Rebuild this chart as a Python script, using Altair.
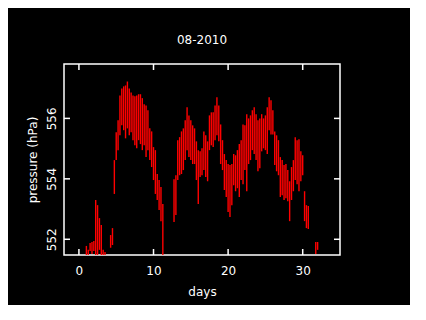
import altair as alt
import pandas as pd

# Time (days of August 2010) and the pressure spread observed around each time
days = [1.0, 1.25, 1.5, 1.75, 2.0, 2.25, 2.5, 2.75, 3.0, 3.25, 3.5,
        4.25, 4.5, 4.75, 5.0, 5.25, 5.5, 5.75, 6.0, 6.25, 6.5, 6.75,
        7.0, 7.25, 7.5, 7.75, 8.0, 8.25, 8.5, 8.75, 9.0, 9.25, 9.5, 9.75,
        10.0, 10.25, 10.5, 10.75, 11.0, 11.25,
        12.75, 13.0, 13.25, 13.5, 13.75, 14.0, 14.25, 14.5, 14.75,
        15.0, 15.25, 15.5, 15.75, 16.0, 16.25, 16.5, 16.75, 17.0, 17.25,
        17.5, 17.75, 18.0, 18.25, 18.5, 18.75, 19.0, 19.25, 19.5, 19.75,
        20.0, 20.25, 20.5, 20.75, 21.0, 21.25, 21.5, 21.75, 22.0, 22.25,
        22.5, 22.75, 23.0, 23.25, 23.5, 23.75, 24.0, 24.25, 24.5, 24.75,
        25.0, 25.25, 25.5, 25.75, 26.0, 26.25, 26.5, 26.75, 27.0, 27.25,
        27.5, 27.75, 28.0, 28.25, 28.5, 28.75, 29.0, 29.25, 29.5, 29.75,
        30.0, 30.25, 30.5, 30.75, 31.75, 32.0]

p_high = [551.78, 551.65, 551.88, 551.91, 551.94, 553.30, 553.13, 552.70, 552.47, 551.65, 551.58,
          552.14, 552.37, 554.62, 555.54, 555.94, 556.76, 556.99, 557.06, 557.09, 557.22, 556.99,
          556.86, 556.76, 556.73, 556.76, 556.80, 556.80, 556.67, 556.47, 556.43, 556.27, 555.67, 555.57,
          555.05, 554.95, 554.16, 553.96, 553.73, 553.17,
          553.99, 554.12, 555.28, 555.38, 555.57, 555.67, 555.94, 556.37, 556.10,
          555.94, 555.77, 555.67, 555.24, 554.95, 554.91, 555.01, 555.57, 555.44, 555.24,
          556.10, 556.20, 556.20, 556.43, 556.70, 556.43, 555.80, 555.28, 554.82, 554.62,
          554.49, 554.46, 554.49, 554.82, 554.78, 554.95, 555.15, 555.28, 555.80, 555.77,
          556.14, 556.00, 556.10, 556.27, 556.37, 556.14, 555.94, 556.00, 556.14, 556.00,
          556.10, 556.37, 556.70, 556.60, 556.27, 555.57, 555.44, 555.28, 554.72, 554.62,
          554.46, 554.49, 554.29, 553.92, 554.39, 554.62, 555.38, 555.28, 555.31, 554.91,
          554.78, 553.59, 553.13, 553.10, 551.91, 551.91]

p_low = [551.48, 551.48, 551.61, 551.51, 551.61, 551.48, 551.48, 551.65, 551.48, 551.45, 551.45,
         551.72, 551.81, 553.50, 554.62, 554.95, 555.44, 555.77, 555.61, 555.34, 555.67, 555.44,
         555.54, 555.28, 555.11, 555.01, 555.28, 555.15, 554.95, 555.11, 554.72, 554.95, 554.62, 554.39,
         553.96, 553.50, 553.30, 552.97, 552.60, 551.48,
         552.57, 552.80, 553.96, 554.12, 554.16, 554.29, 554.62, 554.95, 554.72,
         554.62, 554.49, 554.49, 553.96, 553.17, 554.06, 554.12, 554.29, 554.06, 553.92,
         554.95, 555.11, 555.05, 555.28, 555.44, 555.24, 554.49, 554.29, 553.63, 553.40,
         552.90, 552.74, 553.13, 553.79, 553.59, 553.69, 553.40, 553.96, 553.82, 554.29,
         553.59, 554.49, 554.62, 554.95, 554.82, 554.62, 554.25, 554.35, 554.91, 555.01,
         554.95, 554.82, 555.61, 555.47, 555.47, 554.46, 554.25, 554.12, 553.40, 553.46,
         553.30, 553.36, 553.26, 552.60, 553.30, 553.59, 553.96, 553.82, 553.59, 553.92,
         554.12, 552.60, 552.37, 552.34, 551.51, 551.65]

x_ticks = [0, 10, 20, 30]
y_ticks = [552, 554, 556]

W, H = 276, 191
FONT = "DejaVu Sans"

df = pd.DataFrame({"day": days, "lo": p_low, "hi": p_high})
xt = pd.DataFrame({"t": x_ticks})
yt = pd.DataFrame({"t": y_ticks})

xscale = alt.Scale(domain=[-2, 35], nice=False, zero=False)
yscale = alt.Scale(domain=[551.48, 557.8], nice=False, zero=False)

data_layer = alt.Chart(df).mark_rule(color="#ff0000", strokeWidth=1.4, clip=True).encode(
    x=alt.X("day:Q", scale=xscale,
            axis=alt.Axis(values=x_ticks, title="days", ticks=False, domain=False, grid=False,
                          labelColor="white", titleColor="white", labelFont=FONT, titleFont=FONT,
                          labelFontSize=12, titleFontSize=12, titleFontWeight="normal",
                          labelPadding=10, titlePadding=10)),
    y=alt.Y("lo:Q", scale=yscale,
            axis=alt.Axis(values=y_ticks, title="pressure (hPa)", ticks=False, domain=False, grid=False,
                          labelColor="white", titleColor="white", labelFont=FONT, titleFont=FONT,
                          labelFontSize=12, titleFontSize=12, titleFontWeight="normal",
                          labelAngle=270, labelAlign="center", labelBaseline="bottom",
                          labelPadding=6, titlePadding=6)),
    y2="hi:Q",
)

tick_style = dict(color="white", strokeWidth=1.5)
xb = alt.Chart(xt).mark_rule(**tick_style).encode(
    x=alt.X("t:Q", scale=xscale), y=alt.value(H), y2=alt.value(H - 6))
xtop = alt.Chart(xt).mark_rule(**tick_style).encode(
    x=alt.X("t:Q", scale=xscale), y=alt.value(0), y2=alt.value(6))
yl = alt.Chart(yt).mark_rule(**tick_style).encode(
    y=alt.Y("t:Q", scale=yscale), x=alt.value(0), x2=alt.value(6))
yr = alt.Chart(yt).mark_rule(**tick_style).encode(
    y=alt.Y("t:Q", scale=yscale), x=alt.value(W), x2=alt.value(W - 6))

chart = alt.layer(data_layer, xb, xtop, yl, yr).properties(
    width=W, height=H,
    title=alt.TitleParams("08-2010", color="white", font=FONT, fontSize=12,
                          fontWeight="normal", anchor="middle", offset=16),
    autosize=alt.AutoSizeParams(type="none"),
    padding={"left": 56, "top": 56, "right": 70, "bottom": 50},
).configure(background="black").configure_view(stroke="white", strokeWidth=1.5)

chart.save("out.html", embed_options={"renderer": "svg", "actions": False})
